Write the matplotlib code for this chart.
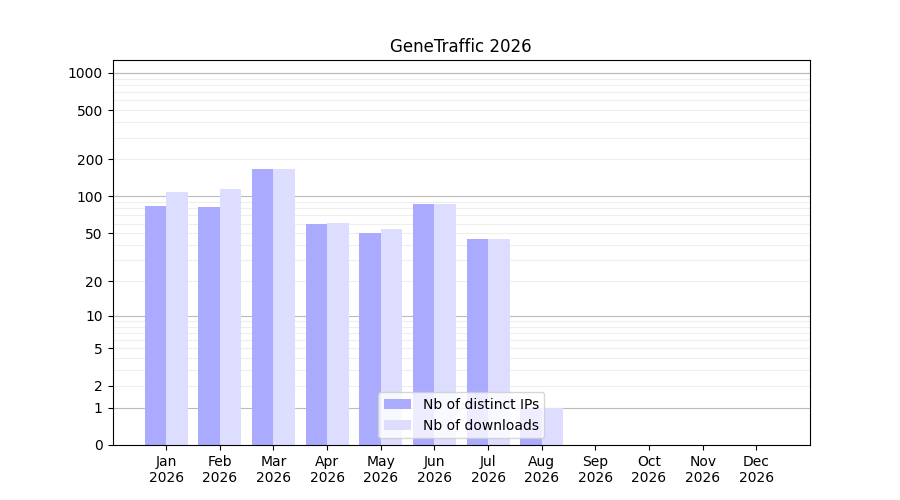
import matplotlib
matplotlib.use("Agg")
import matplotlib.pyplot as plt
import numpy as np

months = ["Jan", "Feb", "Mar", "Apr", "May", "Jun", "Jul", "Aug", "Sep", "Oct", "Nov", "Dec"]
year = "2026"
distinct_ips = [84, 82, 166, 59, 50, 86, 45, 1, 0, 0, 0, 0]
downloads = [108, 115, 168, 61, 54, 86, 45, 1, 0, 0, 0, 0]
yticks = [0, 1, 2, 5, 10, 20, 50, 100, 200, 500, 1000]

fig, ax = plt.subplots(figsize=(9, 5), dpi=100)
fig.subplots_adjust(left=0.125, right=0.9, top=0.88, bottom=0.11)

ax.set_yscale("function", functions=(lambda v: np.log10(1 + np.maximum(v, 0)),
                                     lambda v: 10 ** v - 1))
x = np.arange(len(months))
w = 0.4
ax.bar(x - w / 2, distinct_ips, w, color="#aaaaff", label="Nb of distinct IPs", zorder=2)
ax.bar(x + w / 2, downloads, w, color="#ddddff", label="Nb of downloads", zorder=2)

for v in [1, 10, 100, 1000]:
    ax.axhline(v, color="#bbbbbb", lw=0.8, zorder=0)
for d in [1, 10, 100]:
    for m in range(2, 10):
        ax.axhline(d * m, color="#eeeeee", lw=0.8, zorder=0)
ax.axhline(1000 * 1.0001, color="#bbbbbb", lw=0.8, zorder=0)

ax.set_yticks(yticks)
ax.set_yticklabels([str(t) for t in yticks])
ax.minorticks_off()
ax.set_ylim(0, 1270)
ax.set_xlim(-1, 12)
ax.set_xticks(x)
ax.set_xticklabels([f"{m}\n{year}" for m in months])
ax.set_title("GeneTraffic 2026")
ax.legend(loc="lower center")
fig.savefig("out.png")
